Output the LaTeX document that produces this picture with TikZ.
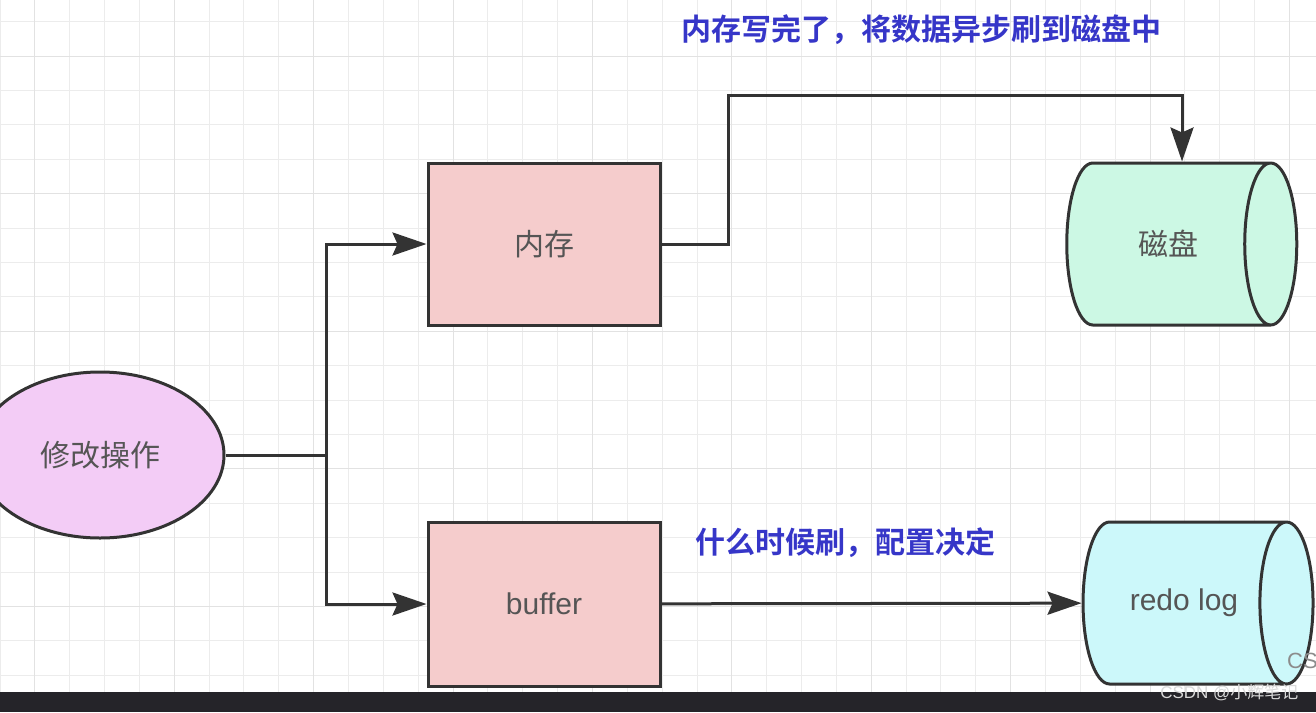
\documentclass[tikz,border=0pt]{standalone}
\usepackage{fontspec}
\setmainfont{Liberation Sans}
\newfontfamily\cjk{Noto Sans CJK SC}
\newfontfamily\cjkbf{Noto Sans CJK SC Bold}
\usetikzlibrary{arrows.meta,shapes.geometric}
\definecolor{gridminor}{HTML}{ECECEC}
\definecolor{gridmajor}{HTML}{E2E2E2}
\definecolor{edge}{HTML}{333333}
\definecolor{boxpink}{HTML}{F5CCCC}
\definecolor{oppink}{HTML}{F3CCF6}
\definecolor{diskgreen}{HTML}{CCF8E4}
\definecolor{logcyan}{HTML}{CCF8FA}
\definecolor{labelblue}{HTML}{3636C8}
\definecolor{textgrey}{HTML}{555555}
\definecolor{barblack}{HTML}{252429}
\tikzset{
  opnode/.style={ellipse, draw=edge, line width=3pt, fill=oppink,
    minimum width=248pt, minimum height=166pt, font=\fontsize{30}{34}\selectfont\cjk, text=textgrey},
  box/.style={rectangle, draw=edge, line width=3pt, fill=boxpink,
    minimum width=232pt, minimum height=162pt, font=\fontsize{30}{34}\selectfont, text=textgrey},
  store/.style={cylinder, draw=edge, line width=3pt, shape aspect=1.9,
    cylinder uses custom fill, minimum width=162pt, minimum height=230pt, inner sep=0pt,
    font=\fontsize{30}{34}\selectfont, text=textgrey},
  note/.style={font=\fontsize{30}{34}\selectfont\cjkbf, text=labelblue},
  wire/.style={draw=edge, line width=3pt},
  arr/.style={wire, -{Stealth[length=34pt, width=23pt, inset=5pt]}}
}
\begin{document}
\begin{tikzpicture}[x=1pt, y=-1pt]
  \useasboundingbox (0,0) rectangle (1316,712);
  \clip (0,0) rectangle (1316,712);
  % grid
  \foreach \k in {0,...,38}
  {
    \draw[gridminor, line width=1pt] (\k*34.85,0) -- (\k*34.85,692);
  }
  \foreach \k in {-1,...,20}
  {
    \draw[gridminor, line width=1pt] (0,21.7+\k*34.4) -- (1316,21.7+\k*34.4);
  }
  \foreach \k in {1,5,...,37}
  {
    \draw[gridmajor, line width=1pt] (\k*34.85,0) -- (\k*34.85,692);
  }
  \foreach \k in {1,5,...,19}
  {
    \draw[gridmajor, line width=1pt] (0,21.7+\k*34.4) -- (1316,21.7+\k*34.4);
  }

  \node[opnode] (op) at (100,455) {修改操作};
  \node[box] (mem) at (544,244) {\cjk 内存};
  \node[box, minimum height=164pt] (buf) at (544,604) {buffer};
  \node[store, cylinder body fill=diskgreen, cylinder end fill=diskgreen] (disk) at (1168,244) {\cjk 磁盘};
  \node[store, cylinder body fill=logcyan, cylinder end fill=logcyan] (redo) at (1184,603) {redo log};

  \node[note] (flushnote) at (921,30) {内存写完了，将数据异步刷到磁盘中};
  \node[note] (cfgnote) at (845,543) {什么时候刷，配置决定};

  \coordinate (split) at (326,455);
  \coordinate (up) at (728,95);
  \draw[wire] (op) -- (split);
  \draw[arr] (split) |- (mem);
  \draw[arr] (split) |- (buf);
  \draw[arr] (mem.east) -| (up) -| ([xshift=14pt]disk.north);
  \draw[arr] (buf) -- (redo);

  % page footer
  \fill[barblack] (0,692) rectangle (1316,712);
  \node[anchor=east, text=white!85!black, font=\fontsize{17}{19}\selectfont] (mark) at (1302,692) {CSDN @{\cjk 小辉笔记}};
  \node[anchor=west, text=black!45, font=\fontsize{22}{24}\selectfont, inner sep=0pt] (markcut) at (1287,661) {CS};
\end{tikzpicture}
\end{document}
